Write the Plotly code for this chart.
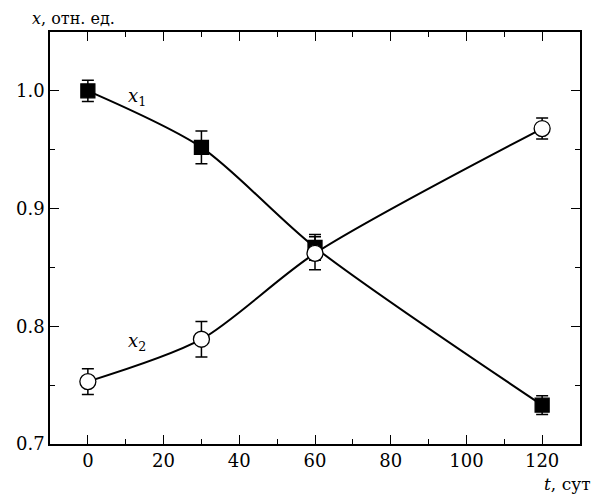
import plotly.graph_objects as go

t = [0, 30, 60, 120]
x1 = [1.000, 0.952, 0.867, 0.733]
x1_err = [0.009, 0.014, 0.011, 0.008]
x2 = [0.753, 0.789, 0.862, 0.968]
x2_err = [0.011, 0.015, 0.014, 0.009]

FONT = "DejaVu Serif, Liberation Serif, serif"

fig = go.Figure()
for y, err, sym, fill in [(x1, x1_err, "square", "black"), (x2, x2_err, "circle", "white")]:
    fig.add_trace(go.Scatter(
        x=t, y=y, mode="lines", line=dict(color="black", width=2, shape="spline", smoothing=0.8),
        showlegend=False, hoverinfo="skip"))
    fig.add_trace(go.Scatter(
        x=t, y=y, mode="markers",
        marker=dict(symbol=sym, size=14 if sym == "square" else 16, color=fill,
                    line=dict(color="black", width=1.3)),
        error_y=dict(type="data", array=err, color="black", thickness=1.5, width=6),
        showlegend=False))

axis_common = dict(
    showline=True, linecolor="black", linewidth=1.5, mirror="allticks",
    ticks="inside", ticklen=9, tickwidth=1.3, tickcolor="black",
    showgrid=False, zeroline=False, automargin=False,
    tickfont=dict(family=FONT, size=18, color="black"),
)
fig.update_xaxes(range=[-10, 130], tickvals=[0, 20, 40, 60, 80, 100, 120],
                 minor=dict(ticks="inside", dtick=10, tick0=0, ticklen=5, tickwidth=1.3, tickcolor="black"),
                 **axis_common)
fig.update_yaxes(range=[0.7, 1.05], tickvals=[0.7, 0.8, 0.9, 1.0], tickformat=".1f",
                 minor=dict(ticks="inside", dtick=0.05, tick0=0.7, ticklen=5, tickwidth=1.3, tickcolor="black"),
                 **axis_common)

fig.add_annotation(x=13, y=0.995, text="<i>x</i><sub>1</sub>", showarrow=False,
                   font=dict(family=FONT, size=18, color="black"))
fig.add_annotation(x=13, y=0.787, text="<i>x</i><sub>2</sub>", showarrow=False,
                   font=dict(family=FONT, size=18, color="black"))
fig.add_annotation(xref="paper", yref="paper", x=-0.038, y=1.0, yshift=2, xanchor="left", yanchor="bottom",
                   text="<i>x</i>, отн. ед.", showarrow=False,
                   font=dict(family=FONT, size=16, color="black"))
fig.add_annotation(xref="paper", yref="paper", x=1.025, y=0, yshift=-28, xanchor="right", yanchor="top",
                   text="<i>t</i>, сут", showarrow=False,
                   font=dict(family=FONT, size=17, color="black"))

fig.update_layout(
    width=605, height=493,
    margin=dict(l=42, r=33, t=24, b=57, autoexpand=False),
    plot_bgcolor="white", paper_bgcolor="white",
)
fig.write_html("out.html")
